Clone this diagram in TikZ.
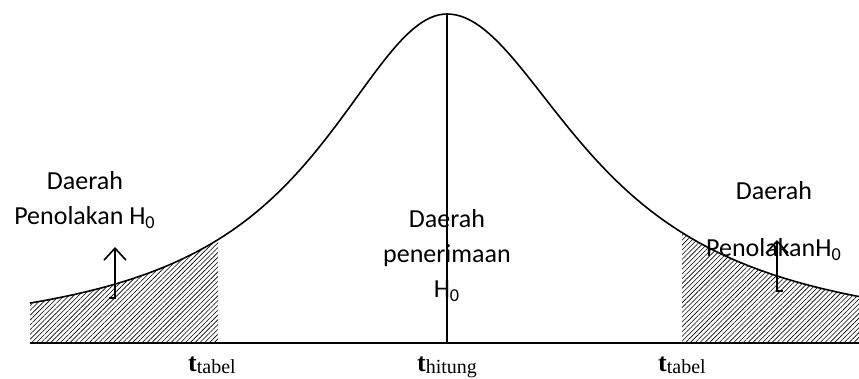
\documentclass[tikz,border=0pt]{standalone}
\usepackage{fontspec}
\setmainfont{Carlito}
\newfontfamily\timesfont{Liberation Serif}
\usetikzlibrary{positioning,arrows.meta,patterns.meta,calc}

\newcommand{\tlabel}[1]{{\timesfont\fontsize{13}{13}\selectfont\textbf{t}\raisebox{-1pt}{\fontsize{10}{10}\selectfont #1}}}

\begin{document}
\begin{tikzpicture}[
  x=0.5pt, y=-0.5pt,
  >={Straight Barb[length=6pt, width=11pt]},
  curve/.style={line width=0.8pt},
  axis/.style={line width=1pt},
  hatch/.style={pattern={Lines[angle=45, distance=1.7pt, line width=0.3pt]}},
  lbl/.style={font=\fontsize{13}{17.5}\selectfont, align=center, inner sep=0pt, anchor=base},
  tl/.style={inner sep=0pt, anchor=base},
  arr/.style={->, line width=0.8pt},
  declare function={fl(\x)=343-329/(1+((\x-447)/155)^2);
                    fr(\x)=343-329/(1+((\x-447)/167)^2);},
]
\useasboundingbox (0,0) rectangle (859,379);

%% ---------- axis and curve ----------
\coordinate (o)    at (30,343);
\coordinate (e)    at (859,343);
\coordinate (mid)  at (447,343);
\coordinate (peak) at (447,14);

%% rejection regions, hatched under the tails
\fill[hatch] (o) -- plot[domain=30:218, samples=40] (\x,{fl(\x)}) -- (218,343) -- cycle;
\fill[hatch] (682,343) -- plot[domain=682:859, samples=40] (\x,{fr(\x)}) -- (e) -- cycle;

\draw[curve] plot[domain=30:447, samples=100] (\x,{fl(\x)})
          -- plot[domain=447:859, samples=100] (\x,{fr(\x)});
\draw[axis] (o) -- (e);
\draw[axis] (peak) -- (mid);

%% ---------- region labels (base = last line) ----------
\node[lbl] (rejl) at (85,225) {Daerah\\Penolakan H\textsubscript{0}};
\node[lbl] (acc)  at (447,298) {Daerah\\penerimaan\\H\textsubscript{0}};
\node[lbl] (rejr) at (774,257) {Daerah\\[11pt]PenolakanH\textsubscript{0}};

%% ---------- arrows into the tails ----------
\coordinate (la0) at (115,298);
\coordinate (la1) at (115,247);
\coordinate (ra0) at (777,291);
\coordinate (ra1) at (777,240);
\draw[arr] ($(la0)+(-6,0)$) -- (la0) -- (la1);
\draw[arr] ($(ra0)+(6,0)$) -- (ra0) -- (ra1);

%% ---------- critical values ----------
\node[tl] (tl1) at (212,372) {\tlabel{tabel}};
\node[tl] (th)  at (447,372) {\tlabel{hitung}};
\node[tl] (tl2) at (682,372) {\tlabel{tabel}};

\end{tikzpicture}
\end{document}
